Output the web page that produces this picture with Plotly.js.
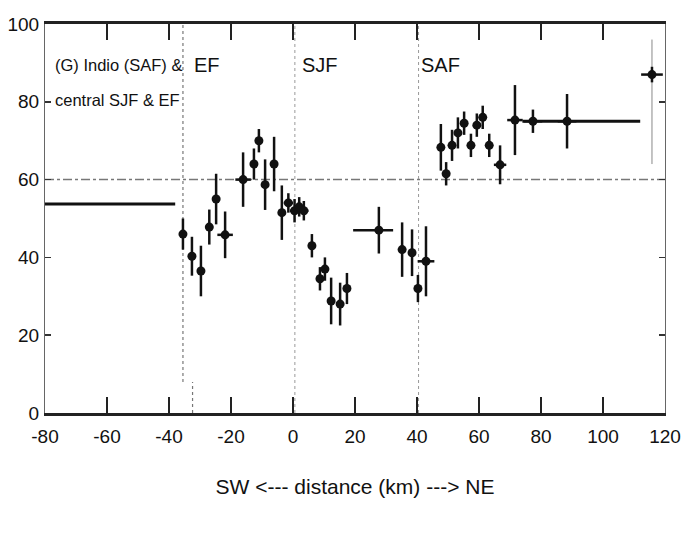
<!DOCTYPE html>
<html>
<head>
<meta charset="utf-8">
<script src="https://cdn.plot.ly/plotly-3.0.1.min.js"></script>
<style>
html,body{margin:0;padding:0;background:#fff;}
#chart{width:686px;height:535px;}
</style>
</head>
<body>
<div id="chart"></div>
<script>
// distance along strike (km) and value for each measurement
const distance = [-35.5,-32.6,-29.7,-27,-24.8,-21.9,-16.1,-12.6,-11,-9,-6.1,-3.6,-1.5,0.5,2,3.5,6.1,8.7,10.3,12.3,15.2,17.4,27.7,35.2,38.4,40.3,42.9,47.7,49.4,51.3,53.2,55.2,57.4,59.3,61.2,63.3,66.8,71.6,77.4,88.4,115.8];
const value    = [46,40.3,36.5,47.8,55,45.8,60,64,70,58.7,64,51.5,54,52,53,52,43,34.5,37,28.8,28,32,47,42,41.2,32,39,68.3,61.5,68.8,72,74.5,68.8,74,76,68.8,63.8,75.3,75,75,87];
const errY     = [4,5,6.5,4.5,6.5,6,7,4,3,6.5,7,7,2.5,3,2.5,2.5,3,3,3,6,5.5,4,6,7,6,3.5,9,6,3,4,4,3,3,3,3,3,5,9,3,7,2];
const errXPlus = [1,1,1.2,1,1,2.5,2.5,1,1,1,1,1,1.5,1.5,1.5,1.5,1,1.2,1.2,1,1,1,4.6,1,1,1,2.7,0.8,0.8,1,1,1,1,1,1,1,2,2.5,3,3,3.5];
const errXMinus= [1,1,1.2,1,1,2.5,2.5,1,1,1,1,1,1.5,1.5,1.5,1.5,1,1.2,1.2,1,1,1,8.3,1,1,1,2.7,0.8,0.8,1,1,1,1,1,1,1,2,2.5,3,3,3.5];

// regional average segments
const segLeftX = [-80,-38];  const segLeftY = [53.75,53.75];
const segRightX = [74,112];  const segRightY = [75,75];
// reference level
const refX = [-80,120]; const refY = [60,60];
// fault traces (vertical dotted lines)
const faultX1 = [-35.5,-35.5]; const faultY1 = [8,100];
const faultX2 = [-32.4,-32.4]; const faultY2 = [0,8];
const faultX3 = [0.6,0.6];     const faultY3 = [0,100];
const faultX4 = [40.5,40.5];   const faultY4 = [0,100];
const thinX = [115.8,115.8];   const thinY = [64,96];

const xTicks = [-80,-60,-40,-20,0,20,40,60,80,100,120];
const yTicks = [0,20,40,60,80,100];

const FONT = '"Liberation Sans",Arial,sans-serif';

const lineTrace = (x,y,opts) => Object.assign({x:x,y:y,mode:'lines',hoverinfo:'skip',showlegend:false,cliponaxis:false}, opts);

const traces = [
  lineTrace(refX, refY, {line:{color:'#777',width:1.5,dash:'dashdot'}}),
  lineTrace(faultX1, faultY1, {line:{color:'#777',width:1.2,dash:'dot'}}),
  lineTrace(faultX2, faultY2, {line:{color:'#777',width:1.2,dash:'dot'}}),
  lineTrace(faultX3, faultY3, {line:{color:'#999',width:1,dash:'dot'}}),
  lineTrace(faultX4, faultY4, {line:{color:'#999',width:1,dash:'dot'}}),
  lineTrace(thinX, thinY, {line:{color:'#888',width:1}}),
  lineTrace(segLeftX, segLeftY, {line:{color:'#111',width:3}}),
  lineTrace(segRightX, segRightY, {line:{color:'#111',width:3}}),
  {
    x: distance, y: value, type:'scatter', mode:'markers', showlegend:false,
    marker:{color:'#111',size:9,symbol:'circle'},
    error_y:{type:'data',array:errY,visible:true,thickness:2.5,width:0,color:'#111'},
    error_x:{type:'data',array:errXPlus,arrayminus:errXMinus,symmetric:false,visible:true,thickness:2.5,width:0,color:'#111'}
  }
];

const layout = {
  width:686, height:535,
  margin:{l:45,r:21,t:24,b:122},
  paper_bgcolor:'#fff', plot_bgcolor:'#fff',
  font:{family:FONT,color:'#111',size:19},
  xaxis:{
    range:[-80,120], tickmode:'array', tickvals:xTicks, ticktext:xTicks.map(String),
    showgrid:false, zeroline:false, showline:true, linewidth:3, linecolor:'#222',
    mirror:'ticks', ticks:'inside', ticklen:16, tickwidth:2, tickcolor:'#222',
    tickfont:{family:FONT,size:19,color:'#111'}, ticklabelstandoff:4,
    title:{text:'SW <--- distance (km) ---> NE', font:{family:FONT,size:21,color:'#111'}, standoff:34}
  },
  yaxis:{
    range:[0,100], tickmode:'array', tickvals:yTicks, ticktext:yTicks.map(String),
    showgrid:false, zeroline:false, showline:true, linewidth:1, linecolor:'#666',
    mirror:'ticks', ticks:'inside', ticklen:6, tickwidth:1.5, tickcolor:'#333',
    tickfont:{family:FONT,size:19,color:'#111'}, ticklabelstandoff:1
  },
  annotations:[
    {x:-77.5,y:89.5,xref:'x',yref:'y',text:'(G) Indio (SAF) &',showarrow:false,xanchor:'left',yanchor:'middle',font:{family:FONT,size:16.5,color:'#111'}},
    {x:-77.5,y:80.5,xref:'x',yref:'y',text:'central SJF & EF',showarrow:false,xanchor:'left',yanchor:'middle',font:{family:FONT,size:16.5,color:'#111'}},
    {x:-32.6,y:89.5,xref:'x',yref:'y',text:'EF',showarrow:false,xanchor:'left',yanchor:'middle',font:{family:FONT,size:20,color:'#111'}},
    {x:2.2,y:89.5,xref:'x',yref:'y',text:'SJF',showarrow:false,xanchor:'left',yanchor:'middle',font:{family:FONT,size:20,color:'#111'}},
    {x:40.8,y:89.5,xref:'x',yref:'y',text:'SAF',showarrow:false,xanchor:'left',yanchor:'middle',font:{family:FONT,size:20,color:'#111'}}
  ]
};

Plotly.newPlot('chart', traces, layout, {displayModeBar:false, staticPlot:true});
</script>
</body>
</html>
